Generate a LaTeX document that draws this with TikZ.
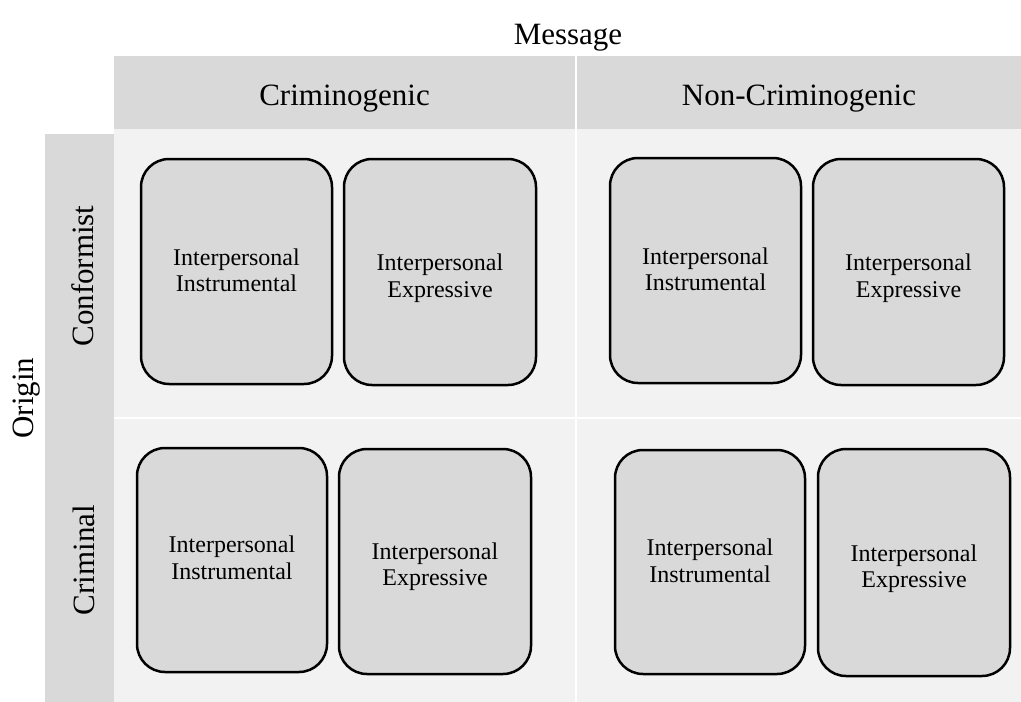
\documentclass[tikz,border=0pt]{standalone}
\usepackage{fontspec}
\setmainfont{Liberation Serif}
\definecolor{hdr}{HTML}{D9D9D9}
\definecolor{cellbg}{HTML}{F2F2F2}
\definecolor{boxfill}{HTML}{D9D9D9}
\begin{document}
\begin{tikzpicture}[x=1pt,y=-1pt,
  boxstyle/.style={draw=black, line width=2.5pt, fill=boxfill, rounded corners=28pt, inner sep=0pt},
  boxtext/.style={align=center, inner sep=0pt, font=\fontsize{24}{26.5}\selectfont},
  headtext/.style={font=\fontsize{31}{36}\selectfont, anchor=base, inner sep=0pt},
  sidetext/.style={font=\fontsize{31}{36}\selectfont, anchor=base, rotate=90, inner sep=0pt}]
\useasboundingbox (0,0) rectangle (1021,702);
% backgrounds
\fill[hdr] (114,56) rectangle (1021,129);
\fill[cellbg] (114,129) rectangle (1021,702);
\fill[hdr] (45,134) rectangle (114,702);
\draw[white, line width=2pt] (575.5,56) -- (575.5,702);
\draw[white, line width=2pt] (114,418.3) -- (1021,418.3);
% labels
\node[headtext] (msg) at (568,44) {Message};
\node[headtext] (crim) at (344.5,105) {Criminogenic};
\node[headtext] (noncrim) at (799,105) {Non-Criminogenic};
\node[sidetext] (origin) at (34,398) {Origin};
\node[sidetext] (conf) at (93.5,276) {Conformist};
\node[sidetext] (crimnl) at (94.5,560) {Criminal};
% boxes
\node[boxstyle, minimum width=191pt, minimum height=225pt] (b1) at (236.5,271.5) {};
\node[boxstyle, minimum width=192pt, minimum height=226pt] (b2) at (440,272) {};
\node[boxstyle, minimum width=191pt, minimum height=225pt] (b3) at (705.5,270.5) {};
\node[boxstyle, minimum width=191pt, minimum height=226pt] (b4) at (908.5,272) {};
\node[boxstyle, minimum width=190pt, minimum height=224pt] (b5) at (232,560) {};
\node[boxstyle, minimum width=192pt, minimum height=225pt] (b6) at (435,561.5) {};
\node[boxstyle, minimum width=190pt, minimum height=224pt] (b7) at (710,562) {};
\node[boxstyle, minimum width=192pt, minimum height=227pt] (b8) at (914,562.5) {};
% box texts
\node[boxtext, yshift=1pt] (t1) at (b1.center) {Interpersonal\\Instrumental};
\node[boxtext, yshift=-6pt] (t2) at (b2.center) {Interpersonal\\Expressive};
\node[boxtext, yshift=1pt] (t3) at (b3.center) {Interpersonal\\Instrumental};
\node[boxtext, yshift=-6pt] (t4) at (b4.center) {Interpersonal\\Expressive};
\node[boxtext, yshift=2pt] (t5) at (b5.center) {Interpersonal\\Instrumental};
\node[boxtext, yshift=-5pt] (t6) at (b6.center) {Interpersonal\\Expressive};
\node[boxtext, yshift=1pt] (t7) at (b7.center) {Interpersonal\\Instrumental};
\node[boxtext, yshift=-6pt] (t8) at (b8.center) {Interpersonal\\Expressive};
\end{tikzpicture}
\end{document}
